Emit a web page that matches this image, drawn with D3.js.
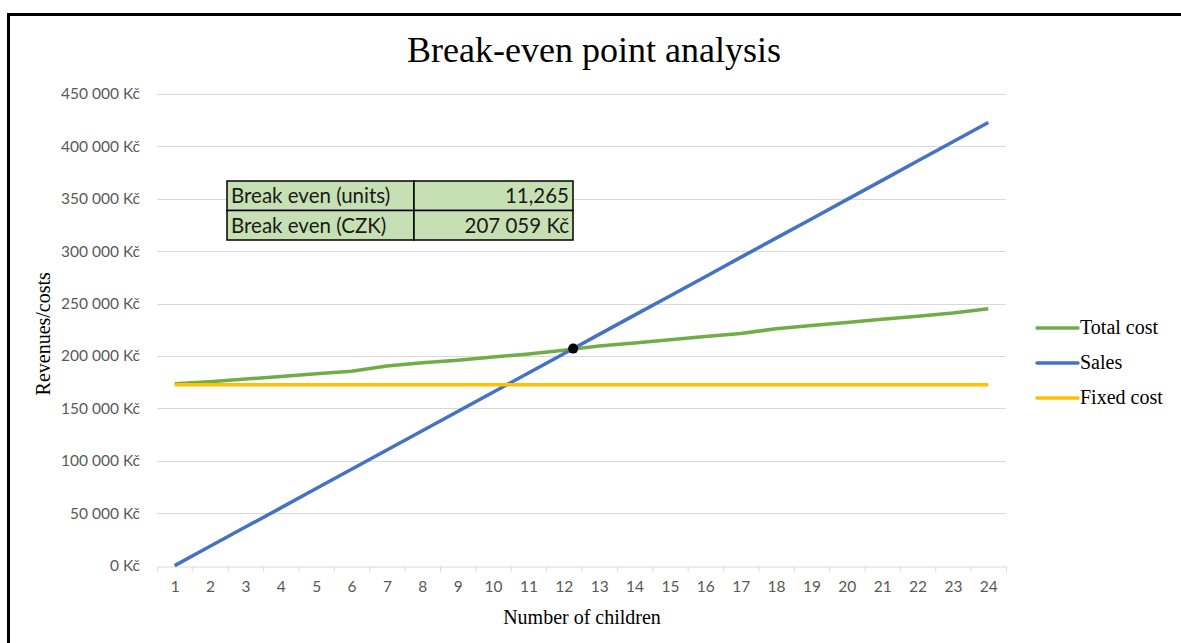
<!DOCTYPE html>
<html>
<head>
<meta charset="utf-8">
<script src="https://cdn.jsdelivr.net/npm/d3@7"></script>
<style>
  body { margin: 0; background: #fff; }
  svg { display: block; }
</style>
</head>
<body>
<div id="chart"></div>
<script>
// data
const children = ['1','2','3','4','5','6','7','8','9','10','11','12','13','14','15','16','17','18','19','20','21','22','23','24'];
const totalCost = [173500, 175500, 178000, 180500, 183000, 185500, 190500, 193500, 196000, 199000, 202000, 205500,
                   209500, 212500, 215500, 218500, 221500, 226000, 229000, 232000, 235000, 238000, 241000, 245000];
const sales = [0, 18400, 36800, 55100, 73500, 91900, 110300, 128700, 147000, 165400, 183800, 202200,
               220600, 239000, 257300, 275700, 294100, 312500, 330800, 349200, 367600, 386000, 404400, 422800];
const fixedCost = [172500, 172500, 172500, 172500, 172500, 172500, 172500, 172500, 172500, 172500, 172500, 172500,
                   172500, 172500, 172500, 172500, 172500, 172500, 172500, 172500, 172500, 172500, 172500, 172500];
const yTicks = [0, 50000, 100000, 150000, 200000, 250000, 300000, 350000, 400000, 450000];
const breakEvenUnits = 11.265;
const breakEvenCZK = 207059;
const tableRows = [
    ['Break even (units)', '11,265'],
    ['Break even (CZK)', '207 059 Kč']
];

const series = [
    { name: 'Total cost', values: totalCost, color: '#70ad47' },
    { name: 'Sales', values: sales, color: '#4472c4' },
    { name: 'Fixed cost', values: fixedCost, color: '#ffc000' }
];

const W = 1181, H = 643;
const plot = { left: 157, right: 1006, top: 94, bottom: 565.6 };

const svg = d3.select('#chart')
    .append('svg')
    .attr('width', W)
    .attr('height', H);

// outer frame
svg.append('rect')
    .attr('x', 8.5)
    .attr('y', 14.5)
    .attr('width', W + 20)
    .attr('height', H + 20)
    .attr('fill', '#fff')
    .attr('stroke', '#000')
    .attr('stroke-width', 3);

const x = d3.scaleLinear()
    .domain([-0.5, children.length - 0.5])
    .range([plot.left, plot.right]);

const y = d3.scaleLinear()
    .domain([0, 450000])
    .range([plot.bottom, plot.top]);

const fmtKc = v => d3.format(',')(v).replace(/,/g, ' ') + ' Kč';
const labelFont = 'Lato, "Open Sans", sans-serif';
const serif = '"Liberation Serif", "Times New Roman", serif';

// gridlines
svg.append('g')
    .selectAll('line')
    .data(yTicks.filter(d => d > 0))
    .enter()
    .append('line')
    .attr('x1', plot.left)
    .attr('x2', plot.right)
    .attr('y1', d => Math.round(y(d)) + 0.5)
    .attr('y2', d => Math.round(y(d)) + 0.5)
    .attr('stroke', '#d9d9d9')
    .attr('stroke-width', 1);

// y axis labels
const yAxis = svg.append('g')
    .attr('transform', `translate(${plot.left},0)`)
    .call(d3.axisLeft(y).tickValues(yTicks).tickSize(0).tickPadding(17).tickFormat(fmtKc));
yAxis.select('.domain').remove();
yAxis.selectAll('text')
    .style('font-family', labelFont)
    .style('font-size', '15.5px')
    .attr('fill', '#595959');

// x axis: boundary ticks
const xBounds = d3.range(children.length + 1).map(i => i - 0.5);
const xAxisTicks = svg.append('g')
    .attr('transform', `translate(0,${Math.round(plot.bottom) + 0.5})`)
    .call(d3.axisBottom(x).tickValues(xBounds).tickSize(5).tickFormat(''));
xAxisTicks.selectAll('line, path').attr('stroke', '#d9d9d9');

// x axis: category labels
const xAxisLabels = svg.append('g')
    .attr('transform', `translate(0,${plot.bottom})`)
    .call(d3.axisBottom(x).tickValues(d3.range(children.length)).tickSize(0).tickPadding(15)
        .tickFormat(i => children[i]));
xAxisLabels.select('.domain').remove();
xAxisLabels.selectAll('text')
    .style('font-family', labelFont)
    .style('font-size', '15.5px')
    .attr('fill', '#595959');

// series lines
const line = d3.line()
    .x((d, i) => x(i))
    .y(d => y(d));

svg.selectAll('.series')
    .data(series)
    .enter()
    .append('path')
    .attr('class', 'series')
    .attr('fill', 'none')
    .attr('stroke', d => d.color)
    .attr('stroke-width', 3.5)
    .attr('stroke-linejoin', 'round')
    .attr('d', d => line(d.values));

// break-even point
svg.append('circle')
    .attr('cx', x(breakEvenUnits))
    .attr('cy', y(breakEvenCZK))
    .attr('r', 5)
    .attr('fill', '#000');

// title
svg.append('text')
    .attr('x', 594)
    .attr('y', 62)
    .attr('text-anchor', 'middle')
    .style('font-family', serif)
    .style('font-size', '36px')
    .attr('fill', '#000')
    .text('Break-even point analysis');

// axis titles
svg.append('text')
    .attr('transform', `translate(50,${(plot.top + plot.bottom) / 2 + 4}) rotate(-90)`)
    .attr('text-anchor', 'middle')
    .style('font-family', serif)
    .style('font-size', '20px')
    .attr('fill', '#000')
    .text('Revenues/costs');

svg.append('text')
    .attr('x', 582)
    .attr('y', 624)
    .attr('text-anchor', 'middle')
    .style('font-family', serif)
    .style('font-size', '20px')
    .attr('fill', '#000')
    .text('Number of children');

// legend
const legend = svg.append('g')
    .selectAll('g')
    .data(series)
    .enter()
    .append('g')
    .attr('transform', (d, i) => `translate(1037,${328 + i * 35})`);
legend.append('line')
    .attr('x1', 0)
    .attr('x2', 41)
    .attr('stroke', d => d.color)
    .attr('stroke-width', 3.5)
    .attr('stroke-linecap', 'round');
legend.append('text')
    .attr('x', 43)
    .attr('y', 6)
    .style('font-family', serif)
    .style('font-size', '20px')
    .attr('fill', '#000')
    .text(d => d.name);

// break-even table
const table = { x: 227, y: 181, w1: 187, w2: 159, h: 29.5 };
const rows = svg.append('g')
    .selectAll('g')
    .data(tableRows)
    .enter()
    .append('g')
    .attr('transform', (d, i) => `translate(${table.x},${table.y + i * table.h})`);
rows.append('rect')
    .attr('width', table.w1)
    .attr('height', table.h)
    .attr('fill', '#c6e0b4')
    .attr('stroke', '#000')
    .attr('stroke-width', 1.5);
rows.append('rect')
    .attr('x', table.w1)
    .attr('width', table.w2)
    .attr('height', table.h)
    .attr('fill', '#c6e0b4')
    .attr('stroke', '#000')
    .attr('stroke-width', 1.5);
rows.append('text')
    .attr('x', 4)
    .attr('y', 22)
    .style('font-family', labelFont)
    .style('font-size', '20.5px')
    .attr('fill', '#1a1a1a')
    .text(d => d[0]);
rows.append('text')
    .attr('x', table.w1 + table.w2 - 4)
    .attr('y', 22)
    .attr('text-anchor', 'end')
    .style('font-family', labelFont)
    .style('font-size', '20.5px')
    .attr('fill', '#1a1a1a')
    .text(d => d[1]);
</script>
</body>
</html>
